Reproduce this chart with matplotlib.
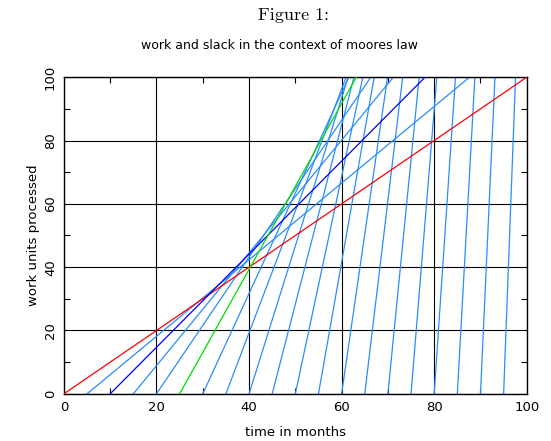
import matplotlib
matplotlib.use("Agg")
import matplotlib.pyplot as plt

# month each line starts at, and its slope (work units per month)
starts = [0, 5, 10, 15, 20, 25, 30, 35, 40, 45, 50, 55, 60, 65, 70, 75, 80, 85, 90, 95]
slopes = [1.00, 1.21, 1.47, 1.78, 2.16, 2.62, 3.17, 3.85, 4.67, 5.66,
          6.86, 8.31, 10.08, 12.21, 14.81, 17.95, 21.76, 26.38, 31.98, 38.77]
special = {0: "#ff0000", 10: "#0000ff", 25: "#00dd00"}
other_col = "#2a8cff"
ticks = [0, 20, 40, 60, 80, 100]

fig = plt.figure(figsize=(5.51, 4.41), dpi=100)
ax = fig.add_axes([0.116, 0.107, 0.840, 0.718])

# light blue first, coloured ones on top
for s, k in zip(starts, slopes):
    if s in special:
        continue
    t_end = s + 100.0 / k
    ax.plot([s, t_end], [0, 100], color=other_col, lw=0.9, zorder=2)
for s, k in zip(starts, slopes):
    if s not in special:
        continue
    t_end = s + 100.0 / k
    ax.plot([s, t_end], [0, 100], color=special[s], lw=0.9, zorder=3)

ax.set_xlim(0, 100)
ax.set_ylim(0, 100)
ax.set_xticks(ticks)
ax.set_yticks(ticks)
ax.set_xticks(range(10, 100, 20), minor=True)
ax.set_yticks(range(10, 100, 20), minor=True)
ax.grid(True, which='major', color='black', lw=0.8, zorder=1)
ax.tick_params(which='both', direction='in', top=True, right=True, labelsize=9.5)
ax.tick_params(which='major', length=0, pad=5)
ax.tick_params(which='minor', length=4, width=0.8)
for lab in ax.get_yticklabels():
    lab.set_rotation(90)
    lab.set_va('center')
for sp in ax.spines.values():
    sp.set_linewidth(1.0)

ax.set_xlabel("time in months", fontsize=9.5, labelpad=9)
ax.set_ylabel("work units processed", fontsize=9.5, labelpad=3)

fig.text(0.532, 0.965, "Figure 1:", family='cmr10', ha='center', va='center', fontsize=13)
fig.text(0.508, 0.897, "work and slack in the context of moores law", ha='center',
         va='center', fontsize=9)

fig.savefig("out.png", dpi=100)
